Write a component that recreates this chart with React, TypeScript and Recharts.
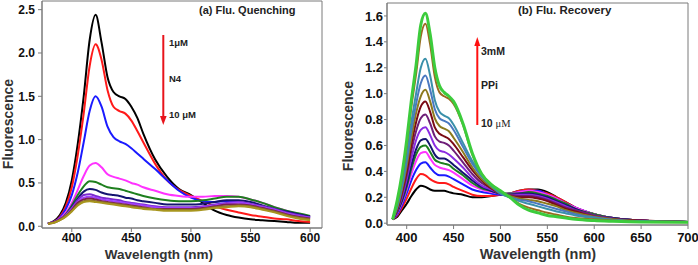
import React from 'react';
import { LineChart, Line, XAxis, YAxis, ReferenceArea } from 'recharts';

// ---- panel (a): quenching by N4, 1 -> 10 uM ----
const wlA = [380, 385, 390, 395, 400, 405, 410, 415, 420, 425, 430, 435, 440, 445, 450, 455, 460, 470, 480, 490, 500, 510, 520, 530, 540, 550, 560, 570, 580, 590, 600];

const qBlack = [0.03, 0.06, 0.13, 0.27, 0.53, 0.95, 1.5, 2.15, 2.44, 2.12, 1.72, 1.55, 1.5, 1.47, 1.38, 1.25, 1.07, 0.77, 0.57, 0.43, 0.36, 0.27, 0.18, 0.13, 0.1, 0.08, 0.07, 0.06, 0.05, 0.04, 0.04];
const qRed = [0.03, 0.05, 0.11, 0.23, 0.45, 0.82, 1.3, 1.85, 2.1, 1.92, 1.57, 1.38, 1.33, 1.3, 1.22, 1.1, 0.97, 0.72, 0.53, 0.42, 0.35, 0.29, 0.23, 0.19, 0.16, 0.13, 0.11, 0.09, 0.08, 0.06, 0.05];
const qBlue = [0.03, 0.05, 0.1, 0.2, 0.36, 0.62, 0.97, 1.33, 1.5, 1.38, 1.15, 1.03, 0.98, 0.95, 0.9, 0.84, 0.78, 0.66, 0.53, 0.41, 0.33, 0.29, 0.28, 0.29, 0.28, 0.25, 0.21, 0.18, 0.15, 0.12, 0.1];
const qMagenta = [0.03, 0.05, 0.09, 0.16, 0.27, 0.42, 0.58, 0.7, 0.73, 0.68, 0.6, 0.57, 0.55, 0.53, 0.5, 0.48, 0.45, 0.41, 0.37, 0.35, 0.34, 0.34, 0.35, 0.35, 0.34, 0.31, 0.27, 0.22, 0.18, 0.14, 0.11];
const qGreen = [0.03, 0.05, 0.08, 0.14, 0.24, 0.36, 0.46, 0.52, 0.51, 0.48, 0.45, 0.44, 0.43, 0.41, 0.39, 0.37, 0.35, 0.32, 0.3, 0.29, 0.29, 0.3, 0.32, 0.34, 0.34, 0.31, 0.27, 0.22, 0.18, 0.15, 0.12];
const qNavy = [0.03, 0.05, 0.08, 0.13, 0.22, 0.32, 0.4, 0.43, 0.42, 0.39, 0.37, 0.36, 0.35, 0.33, 0.32, 0.3, 0.29, 0.27, 0.25, 0.25, 0.25, 0.26, 0.28, 0.3, 0.3, 0.28, 0.24, 0.2, 0.17, 0.14, 0.11];
const qPurple = [0.03, 0.05, 0.08, 0.13, 0.21, 0.3, 0.36, 0.37, 0.35, 0.33, 0.32, 0.31, 0.3, 0.28, 0.27, 0.26, 0.25, 0.23, 0.22, 0.22, 0.22, 0.23, 0.25, 0.27, 0.28, 0.26, 0.23, 0.2, 0.16, 0.13, 0.1];
const qViolet = [0.03, 0.05, 0.08, 0.13, 0.2, 0.28, 0.33, 0.34, 0.33, 0.31, 0.3, 0.29, 0.28, 0.27, 0.26, 0.25, 0.24, 0.22, 0.21, 0.21, 0.21, 0.22, 0.24, 0.26, 0.27, 0.25, 0.22, 0.19, 0.15, 0.12, 0.1];
const qMaroon = [0.03, 0.05, 0.08, 0.12, 0.19, 0.27, 0.31, 0.32, 0.31, 0.29, 0.28, 0.27, 0.26, 0.25, 0.24, 0.23, 0.22, 0.2, 0.2, 0.2, 0.2, 0.21, 0.23, 0.25, 0.25, 0.24, 0.21, 0.18, 0.14, 0.11, 0.09];
const qBrown = [0.03, 0.04, 0.07, 0.12, 0.18, 0.25, 0.29, 0.3, 0.29, 0.28, 0.27, 0.26, 0.25, 0.24, 0.23, 0.22, 0.21, 0.2, 0.19, 0.19, 0.19, 0.2, 0.22, 0.23, 0.24, 0.23, 0.2, 0.17, 0.13, 0.1, 0.08];
const qOlive = [0.03, 0.04, 0.07, 0.11, 0.17, 0.24, 0.28, 0.29, 0.28, 0.27, 0.26, 0.25, 0.24, 0.23, 0.22, 0.21, 0.2, 0.19, 0.18, 0.18, 0.18, 0.19, 0.21, 0.22, 0.23, 0.22, 0.19, 0.16, 0.12, 0.09, 0.07];

// ---- panel (b): recovery with PPi, 10 uM -> 3 mM ----
const wlB = [385, 390, 395, 400, 405, 410, 415, 420, 425, 430, 435, 440, 445, 450, 460, 470, 480, 490, 500, 510, 520, 530, 540, 550, 560, 570, 580, 600, 620, 650, 700];

const rBlack = [0.03, 0.05, 0.1, 0.15, 0.21, 0.26, 0.29, 0.28, 0.26, 0.25, 0.25, 0.25, 0.24, 0.23, 0.22, 0.2, 0.2, 0.21, 0.22, 0.23, 0.25, 0.26, 0.26, 0.24, 0.2, 0.16, 0.12, 0.07, 0.04, 0.02, 0.01];
const rRed = [0.03, 0.06, 0.12, 0.19, 0.27, 0.34, 0.38, 0.37, 0.34, 0.32, 0.31, 0.31, 0.3, 0.28, 0.25, 0.22, 0.21, 0.21, 0.22, 0.23, 0.25, 0.26, 0.25, 0.23, 0.2, 0.16, 0.12, 0.07, 0.04, 0.02, 0.01];
const rBlue = [0.03, 0.07, 0.14, 0.23, 0.33, 0.41, 0.46, 0.47, 0.43, 0.39, 0.37, 0.37, 0.36, 0.34, 0.3, 0.26, 0.24, 0.23, 0.22, 0.23, 0.24, 0.25, 0.25, 0.22, 0.19, 0.15, 0.12, 0.07, 0.04, 0.02, 0.01];
const rMagenta = [0.03, 0.08, 0.16, 0.26, 0.38, 0.48, 0.54, 0.55, 0.5, 0.45, 0.43, 0.42, 0.41, 0.39, 0.34, 0.29, 0.26, 0.24, 0.23, 0.23, 0.24, 0.25, 0.24, 0.22, 0.19, 0.15, 0.12, 0.07, 0.04, 0.02, 0.01];
const rGreen = [0.03, 0.09, 0.17, 0.28, 0.42, 0.53, 0.59, 0.6, 0.55, 0.49, 0.47, 0.46, 0.45, 0.42, 0.37, 0.31, 0.27, 0.25, 0.23, 0.23, 0.23, 0.24, 0.23, 0.21, 0.18, 0.15, 0.11, 0.07, 0.04, 0.02, 0.01];
const rNavy = [0.03, 0.09, 0.18, 0.3, 0.45, 0.57, 0.64, 0.65, 0.6, 0.53, 0.5, 0.5, 0.48, 0.45, 0.39, 0.33, 0.28, 0.25, 0.23, 0.22, 0.23, 0.23, 0.22, 0.2, 0.17, 0.14, 0.11, 0.06, 0.04, 0.02, 0.01];
const rPurple = [0.03, 0.1, 0.2, 0.34, 0.5, 0.64, 0.72, 0.74, 0.68, 0.6, 0.56, 0.55, 0.53, 0.5, 0.43, 0.35, 0.29, 0.26, 0.23, 0.22, 0.22, 0.22, 0.21, 0.19, 0.16, 0.13, 0.1, 0.06, 0.035, 0.02, 0.01];
const rPlum = [0.03, 0.1, 0.22, 0.37, 0.56, 0.71, 0.81, 0.84, 0.77, 0.67, 0.63, 0.62, 0.6, 0.56, 0.47, 0.38, 0.31, 0.27, 0.23, 0.22, 0.21, 0.21, 0.2, 0.18, 0.15, 0.12, 0.1, 0.06, 0.035, 0.02, 0.01];
const rMaroon = [0.03, 0.11, 0.24, 0.4, 0.61, 0.78, 0.9, 0.94, 0.86, 0.74, 0.69, 0.67, 0.65, 0.61, 0.51, 0.41, 0.33, 0.27, 0.23, 0.21, 0.2, 0.2, 0.19, 0.17, 0.14, 0.11, 0.09, 0.05, 0.03, 0.02, 0.01];
const rOlive = [0.03, 0.12, 0.26, 0.44, 0.66, 0.85, 0.98, 1.03, 0.94, 0.81, 0.75, 0.73, 0.71, 0.66, 0.55, 0.43, 0.34, 0.28, 0.23, 0.21, 0.19, 0.18, 0.17, 0.15, 0.13, 0.1, 0.08, 0.05, 0.03, 0.015, 0.01];
const rSteel = [0.03, 0.13, 0.28, 0.48, 0.72, 0.92, 1.08, 1.14, 1.03, 0.88, 0.81, 0.79, 0.77, 0.72, 0.59, 0.46, 0.36, 0.29, 0.23, 0.2, 0.18, 0.17, 0.15, 0.13, 0.11, 0.09, 0.07, 0.045, 0.025, 0.015, 0.01];
const rTeal = [0.03, 0.14, 0.3, 0.52, 0.78, 1.0, 1.2, 1.27, 1.14, 0.95, 0.86, 0.83, 0.81, 0.76, 0.62, 0.48, 0.37, 0.29, 0.23, 0.2, 0.17, 0.15, 0.13, 0.11, 0.09, 0.075, 0.06, 0.04, 0.025, 0.015, 0.01];
const rBrown = [0.03, 0.16, 0.35, 0.6, 0.9, 1.15, 1.44, 1.54, 1.38, 1.13, 1.01, 0.98, 0.96, 0.92, 0.76, 0.53, 0.38, 0.3, 0.25, 0.2, 0.15, 0.12, 0.1, 0.08, 0.065, 0.05, 0.04, 0.03, 0.02, 0.01, 0.008];
const rLime = [0.03, 0.18, 0.38, 0.64, 0.95, 1.22, 1.53, 1.62, 1.46, 1.2, 1.06, 1.01, 0.98, 0.94, 0.77, 0.54, 0.38, 0.3, 0.25, 0.2, 0.14, 0.1, 0.08, 0.06, 0.05, 0.04, 0.03, 0.02, 0.015, 0.01, 0.008];

const ticksA = { x: [400, 450, 500, 550, 600], y: [0, 0.5, 1.0, 1.5, 2.0, 2.5] };
const ticksB = { x: [400, 450, 500, 550, 600, 650, 700], y: [0, 0.2, 0.4, 0.6, 0.8, 1.0, 1.2, 1.4, 1.6] };

const seriesA = [
  { key: 'c1', vals: qBlack, color: '#000000' },
  { key: 'c2', vals: qRed, color: '#ff1a1a' },
  { key: 'c3', vals: qBlue, color: '#1a1aff' },
  { key: 'c4', vals: qMagenta, color: '#ff33ff' },
  { key: 'c5', vals: qGreen, color: '#1e7f1e' },
  { key: 'c6', vals: qNavy, color: '#141470' },
  { key: 'c7', vals: qPurple, color: '#7a2ad0' },
  { key: 'c8', vals: qViolet, color: '#a040ff' },
  { key: 'c9', vals: qMaroon, color: '#7a2050' },
  { key: 'c10', vals: qBrown, color: '#8a6a30' },
  { key: 'c11', vals: qOlive, color: '#a8961e' },
];

const seriesB = [
  { key: 'c1', vals: rBlack, color: '#000000', w: 2 },
  { key: 'c2', vals: rRed, color: '#ff1a1a', w: 2 },
  { key: 'c3', vals: rBlue, color: '#1a1aff', w: 2 },
  { key: 'c4', vals: rMagenta, color: '#ff33ff', w: 2 },
  { key: 'c5', vals: rGreen, color: '#1e7f1e', w: 2 },
  { key: 'c6', vals: rNavy, color: '#141470', w: 2 },
  { key: 'c7', vals: rPurple, color: '#8a2be2', w: 2 },
  { key: 'c8', vals: rPlum, color: '#6e1e78', w: 2 },
  { key: 'c9', vals: rMaroon, color: '#7a0a14', w: 2 },
  { key: 'c10', vals: rOlive, color: '#8c7a1e', w: 2 },
  { key: 'c11', vals: rSteel, color: '#4a78c0', w: 2 },
  { key: 'c12', vals: rTeal, color: '#3a90aa', w: 2 },
  { key: 'c13', vals: rBrown, color: '#9a6a20', w: 2 },
  { key: 'c14', vals: rLime, color: '#3ccc3c', w: 3 },
];

const rowsA = wlA.map((wl, i) => {
  const row: Record<string, number> = { wl };
  seriesA.forEach((s) => { row[s.key] = s.vals[i]; });
  return row;
});
const rowsB = wlB.map((wl, i) => {
  const row: Record<string, number> = { wl };
  seriesB.forEach((s) => { row[s.key] = s.vals[i]; });
  return row;
});

const FONT = '"Liberation Sans", Arial, sans-serif';
const FRAME = '#7a7a7a';

const App: React.FC = () => {
  return (
    <div style={{ position: 'absolute', left: 0, top: 0, width: 698, height: 265, background: '#fff', fontFamily: FONT }}>
      {/* panel a */}
      <div style={{ position: 'absolute', left: 0, top: 0 }}>
        <LineChart width={340} height={265} data={rowsA} margin={{ top: 1, right: 18, left: 0, bottom: 0 }}>
          <XAxis
            dataKey="wl" type="number" domain={[375, 610]} ticks={ticksA.x} allowDataOverflow
            height={37} tickSize={4} tickMargin={1}
            stroke={FRAME} tick={{ fill: '#111', fontSize: 12, fontWeight: 700, fontFamily: FONT }}
          />
          <YAxis
            type="number" domain={[-0.02, 2.6]} ticks={ticksA.y} allowDataOverflow
            width={42} tickSize={4} tickMargin={3} tickFormatter={(v: number) => v.toFixed(1)}
            stroke={FRAME} tick={{ fill: '#111', fontSize: 12, fontWeight: 700, fontFamily: FONT }}
          />
          <ReferenceArea x1={375} x2={610} y1={-0.02} y2={2.6} fill="none" stroke={FRAME} strokeWidth={1} />
          {seriesA.map((s) => (
            <Line key={s.key} dataKey={s.key} type="monotone" stroke={s.color} strokeWidth={2} dot={false} isAnimationActive={false} />
          ))}
        </LineChart>
      </div>

      {/* panel b */}
      <div style={{ position: 'absolute', left: 345, top: 0 }}>
        <LineChart width={353} height={265} data={rowsB} margin={{ top: 3, right: 10, left: 0, bottom: 0 }}>
          <XAxis
            dataKey="wl" type="number" domain={[379, 700]} ticks={ticksB.x} allowDataOverflow
            height={40} tickSize={4} tickMargin={4}
            stroke={FRAME} tick={{ fill: '#111', fontSize: 13, fontWeight: 700, fontFamily: FONT }}
          />
          <YAxis
            type="number" domain={[-0.014, 1.7]} ticks={ticksB.y} allowDataOverflow
            width={42} tickSize={3} tickMargin={1} tickFormatter={(v: number) => v.toFixed(1)}
            stroke={FRAME} tick={{ fill: '#111', fontSize: 13, fontWeight: 700, fontFamily: FONT }}
          />
          <ReferenceArea x1={379} x2={700} y1={-0.014} y2={1.7} fill="none" stroke={FRAME} strokeWidth={1} />
          {seriesB.map((s) => (
            <Line key={s.key} dataKey={s.key} type="monotone" stroke={s.color} strokeWidth={s.w} dot={false} isAnimationActive={false} />
          ))}
        </LineChart>
      </div>

      {/* titles, axis labels and the concentration arrows */}
      <svg width={698} height={265} style={{ position: 'absolute', left: 0, top: 0, pointerEvents: 'none' }} fontFamily={FONT}>
        <text x={199} y={14} fontSize={11} fontWeight={700} fill="#222">(a) Flu. Quenching</text>
        <text x={518} y={14} fontSize={11.5} fontWeight={700} fill="#222">(b) Flu. Recovery</text>

        <text x={159} y={259} fontSize={13.5} fontWeight={700} textAnchor="middle" fill="#333">Wavelength (nm)</text>
        <text x={538} y={259} fontSize={14.5} fontWeight={700} textAnchor="middle" fill="#333">Wavelength (nm)</text>
        <text x={13} y={124} fontSize={14} fontWeight={700} textAnchor="middle" fill="#333" transform="rotate(-90 13 124)">Fluorescence</text>
        <text x={353} y={126} fontSize={14} fontWeight={700} textAnchor="middle" fill="#333" transform="rotate(-90 353 126)">Fluorescence</text>

        <line x1={163.3} y1={35} x2={163.3} y2={118} stroke="#e8141b" strokeWidth={2} />
        <polygon points="160,116 166.6,116 163.3,125" fill="#e8141b" />
        <text x={169} y={46} fontSize={9.5} fontWeight={700} fill="#222">1μM</text>
        <text x={169} y={82} fontSize={9.5} fontWeight={700} fill="#222">N4</text>
        <text x={169} y={118} fontSize={9.5} fontWeight={700} fill="#222">10 μM</text>

        <line x1={477.3} y1={125} x2={477.3} y2={45} stroke="#ff1010" strokeWidth={2} />
        <polygon points="474.3,46 480.3,46 477.3,37" fill="#ff1010" />
        <text x={481} y={55} fontSize={10.5} fontWeight={700} fill="#222">3mM</text>
        <text x={481} y={89} fontSize={10.5} fontWeight={700} fill="#222">PPi</text>
        <text x={481} y={127} fontSize={10.5} fontWeight={700} fill="#222">10 <tspan fontFamily="'Liberation Serif', 'Times New Roman', serif" fontWeight={400}>μM</tspan></text>
      </svg>
    </div>
  );
};

export default App;
